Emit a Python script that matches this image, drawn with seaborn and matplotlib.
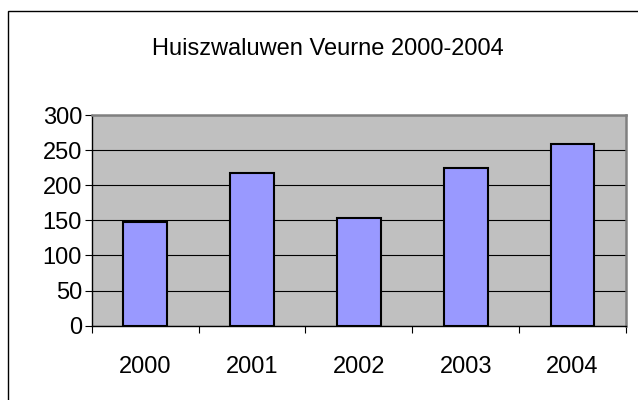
import pandas as pd
import matplotlib
matplotlib.use('Agg')
import matplotlib.pyplot as plt
from matplotlib.patches import Rectangle
import seaborn as sns

# =================== DATA ===================

years = ['2000', '2001', '2002', '2003', '2004']
counts = [148, 217, 153, 224, 259]
y_ticks = [0, 50, 100, 150, 200, 250, 300]

TITLE = 'Huiszwaluwen Veurne 2000-2004'
BAR_COLOR = '#9999FF'
PLOT_BG = '#C0C0C0'
FONT_SIZE = 17

# =================== PLOT ===================

def plot_bars(df):
    sns.set_theme(style='white')
    plt.rcParams['font.family'] = ['Liberation Sans', 'DejaVu Sans']
    plt.rcParams['text.color'] = 'black'
    plt.rcParams['xtick.color'] = 'black'
    plt.rcParams['ytick.color'] = 'black'

    fig = plt.figure(figsize=(6.38, 4.0), dpi=100)
    ax = fig.add_axes([0.1437, 0.1858, 0.9812 - 0.1437, 0.7125 - 0.1858])

    sns.barplot(data=df, x='year', y='count', color=BAR_COLOR, saturation=1,
                edgecolor='black', linewidth=1.5, width=0.41, ax=ax)

    ax.set_facecolor(PLOT_BG)
    ax.set_xlim(-0.5, len(years) - 0.5)
    ax.set_ylim(0, 300)
    ax.set_xlabel('')
    ax.set_ylabel('')

    # y axis
    ax.set_yticks(y_ticks)
    ax.set_yticklabels([str(t) for t in y_ticks], fontsize=FONT_SIZE, color='black')
    ax.yaxis.grid(True, color='black', linewidth=0.8)
    ax.set_axisbelow(True)
    ax.tick_params(axis='y', length=5, width=0.8, color='black', labelcolor='black',
                   pad=2, direction='out', left=True)

    # x axis: ticks between categories, labels in the middle
    ax.set_xticks([i - 0.5 for i in range(len(years) + 1)])
    ax.set_xticklabels([])
    ax.set_xticks(range(len(years)), minor=True)
    ax.set_xticklabels(years, minor=True, fontsize=FONT_SIZE, color='black')
    ax.tick_params(axis='x', which='major', length=5, width=0.8, color='black', direction='out', bottom=True)
    ax.tick_params(axis='x', which='minor', length=0, pad=22, bottom=True, labelcolor='black')

    for side in ['left', 'bottom']:
        ax.spines[side].set_color('black')
        ax.spines[side].set_linewidth(1.0)
    for side in ['top', 'right']:
        ax.spines[side].set_color('#808080')
        ax.spines[side].set_linewidth(1.8)

    fig.text(0.514, 0.878, TITLE, ha='center', va='center', fontsize=FONT_SIZE, color='black')

    # chart border like the spreadsheet
    fig.patches.append(Rectangle((8 / 638, -0.1), 1.2, 0.9725 + 0.1, transform=fig.transFigure,
                                 fill=False, edgecolor='black', linewidth=1.0))

    fig.savefig('out.png', dpi=100)
    plt.close(fig)

# =================== MAIN ===================

def main():
    df = pd.DataFrame({'year': years, 'count': counts})
    plot_bars(df)

if __name__ == '__main__':
    main()
